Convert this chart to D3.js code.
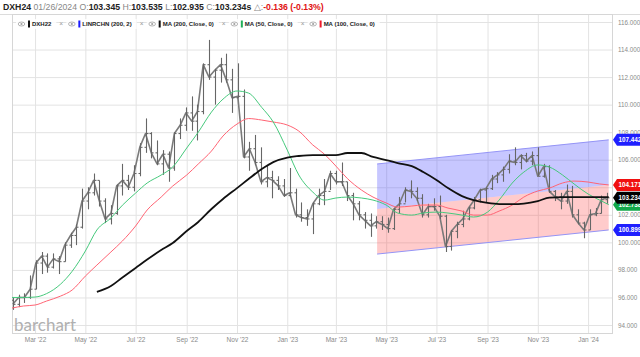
<!DOCTYPE html>
<html><head><meta charset="utf-8">
<script src="https://cdn.jsdelivr.net/npm/d3@7"></script>
<style>html,body{margin:0;padding:0;background:#fff;}svg{display:block}</style>
</head><body><svg id="c" width="640" height="357"></svg>
<script>
// ---------- DATA ----------
const weekDates = ["2022-02-04","2022-02-11","2022-02-18","2022-02-25","2022-03-04","2022-03-11","2022-03-18","2022-03-25","2022-04-01","2022-04-08","2022-04-15","2022-04-22","2022-04-29","2022-05-06","2022-05-13","2022-05-20","2022-05-27","2022-06-03","2022-06-10","2022-06-17","2022-06-24","2022-07-01","2022-07-08","2022-07-15","2022-07-22","2022-07-29","2022-08-05","2022-08-12","2022-08-19","2022-08-26","2022-09-02","2022-09-09","2022-09-16","2022-09-23","2022-09-30","2022-10-07","2022-10-14","2022-10-21","2022-10-28","2022-11-04","2022-11-11","2022-11-18","2022-11-25","2022-12-02","2022-12-09","2022-12-16","2022-12-23","2022-12-30",
"2023-01-06","2023-01-13","2023-01-20","2023-01-27","2023-02-03","2023-02-10","2023-02-17","2023-02-24","2023-03-03","2023-03-10","2023-03-17","2023-03-24","2023-03-31","2023-04-07","2023-04-14","2023-04-21","2023-04-28","2023-05-05","2023-05-12","2023-05-19","2023-05-26","2023-06-02","2023-06-09","2023-06-16","2023-06-23","2023-06-30","2023-07-07","2023-07-14","2023-07-21","2023-07-28","2023-08-04","2023-08-11","2023-08-18","2023-08-25","2023-09-01","2023-09-08","2023-09-15","2023-09-22","2023-09-29","2023-10-06","2023-10-13","2023-10-20","2023-10-27","2023-11-03","2023-11-10","2023-11-17","2023-11-24","2023-12-01","2023-12-08","2023-12-15","2023-12-22","2023-12-29",
"2024-01-05","2024-01-12","2024-01-19","2024-01-26"];
const weekHigh = [96.0,96.2,96.3,97.6,98.7,99.3,99.2,99.2,99.0,100.0,100.7,101.3,103.9,104.0,105.0,104.5,103.2,102.7,104.2,105.7,104.9,105.6,107.2,109.0,108.0,107.4,106.7,106.6,108.0,109.0,109.8,110.6,110.0,113.0,114.7,112.6,113.4,113.7,112.6,113.0,111.1,107.3,107.8,106.9,105.6,105.2,104.8,104.6,
105.4,103.9,102.9,102.4,102.9,103.9,104.6,105.2,105.2,105.8,104.4,103.6,103.0,102.2,102.1,101.9,101.9,101.8,102.5,103.3,104.0,104.5,104.0,103.5,102.8,103.2,103.4,102.0,100.9,101.5,102.3,102.6,103.3,103.9,104.0,104.9,105.1,105.5,106.4,106.9,106.4,106.5,106.6,106.9,105.7,105.6,103.8,103.6,104.2,104.1,102.4,101.5,
102.4,102.5,103.4,103.6];
const weekLow = [95.1,95.3,95.6,95.9,96.6,97.7,97.8,98.1,97.7,98.6,99.6,99.8,101.0,102.4,103.4,102.6,101.4,101.3,102.0,103.4,103.8,103.7,104.8,106.5,106.1,105.6,104.9,104.4,105.2,107.5,108.1,108.1,107.4,109.3,111.8,110.0,111.6,111.6,109.4,110.5,106.1,105.2,105.6,104.2,104.0,103.2,103.8,103.3,
103.3,101.8,101.5,101.2,100.6,102.7,102.7,103.8,104.2,104.1,103.0,101.6,101.6,101.0,100.4,101.0,100.9,100.7,100.9,102.1,102.9,103.2,103.0,101.8,101.8,102.3,101.7,99.3,99.4,100.3,101.1,101.6,102.4,102.9,102.9,103.8,104.3,104.4,105.0,105.6,105.3,105.8,105.6,104.8,104.7,103.6,103.0,102.4,102.8,101.8,101.3,100.3,
100.9,101.9,102.1,102.8];
const weekClose = [95.5,96.0,96.0,96.6,98.5,99.0,98.2,98.8,98.6,99.8,100.5,101.1,103.0,103.6,104.5,103.0,101.7,102.1,104.1,104.5,104.0,105.0,106.9,107.9,106.5,105.7,106.4,105.4,107.9,108.5,109.4,108.8,109.5,112.9,112.0,112.5,112.9,111.8,110.5,110.6,106.2,106.8,105.8,104.4,104.7,104.5,104.1,103.4,
103.6,102.0,101.8,101.7,102.8,103.4,103.7,105.0,104.4,104.4,103.4,102.8,102.0,101.6,101.2,101.5,101.3,101.0,102.4,102.8,103.8,103.7,103.2,102.0,102.6,102.6,101.9,99.7,100.8,101.3,101.7,102.5,103.1,103.8,103.9,104.6,104.9,105.3,105.9,105.8,106.3,105.9,106.3,104.8,105.5,103.7,103.3,103.0,103.7,102.0,101.4,100.9,
102.0,102.1,103.1,103.234];

const maDates = ["2022-02-01","2022-02-15","2022-03-01","2022-03-15","2022-04-01","2022-04-15","2022-05-01","2022-05-15","2022-06-01","2022-06-15","2022-07-01","2022-07-15","2022-08-01","2022-08-15","2022-09-01","2022-09-15","2022-10-01","2022-10-15","2022-11-01","2022-11-15","2022-12-01","2022-12-15",
"2023-01-01","2023-01-15","2023-02-01","2023-02-15","2023-03-01","2023-03-15","2023-04-01","2023-04-15","2023-05-01","2023-05-15","2023-06-01","2023-06-15","2023-07-01","2023-07-15","2023-08-01","2023-08-15","2023-09-01","2023-09-15","2023-10-01","2023-10-15","2023-11-01","2023-11-15","2023-12-01","2023-12-15",
"2024-01-01","2024-01-15","2024-01-26"];
const ma50 = [96.0,96.0,96.03,96.28,96.97,97.9,99.37,100.9,101.77,102.7,103.58,104.31,104.89,105.47,106.85,108.0,109.46,110.4,110.99,110.84,109.8,108.74,
106.7,104.89,103.65,103.07,103.22,103.29,103.22,103.07,102.71,102.13,101.98,102.13,102.2,102.13,101.98,101.84,102.2,103.07,104.31,105.1,105.62,105.47,104.89,104.24,
103.51,103.07,102.738];
const ma100 = [95.23,95.38,95.45,95.74,96.10,96.54,97.55,98.35,99.3,100.1,101.19,102.35,103.29,104.09,104.89,105.69,106.63,107.72,108.59,108.99,108.88,108.74,
108.52,108.08,107.07,106.41,105.54,104.63,103.8,103.29,102.86,102.56,102.64,102.71,102.71,102.49,102.27,101.98,101.98,102.27,102.71,103.29,103.73,103.94,104.31,104.45,
104.38,104.24,104.17];
const ma200 = [null,null,null,null,null,null,null,96.4,96.83,97.45,98.14,98.75,99.44,99.95,100.82,101.48,102.42,103.15,103.94,104.6,105.32,105.83,
106.16,106.27,106.34,106.34,106.34,106.49,106.49,106.2,105.98,105.76,105.54,105.11,104.53,103.94,103.36,103.07,102.86,102.78,102.78,102.82,103.0,103.25,103.29,103.29,
103.29,103.29,103.29];

const channelDates = ["2023-04-20","2024-01-26"];
const channelUpper = [105.69, 107.442];
const channelMid = [102.42, 104.171];
const channelLower = [99.15, 100.899];

const yTicks = [94,96,98,100,102,104,106,108,110,112,114,116];
const xTickDates = ["2022-03-01","2022-05-01","2022-07-01","2022-09-01","2022-11-01","2023-01-01","2023-03-01","2023-05-01","2023-07-01","2023-09-01","2023-11-01","2024-01-01"];

const headerParts = [
  ["DXH24", "#222", 700], [" 01/26/2024", "#888", 400], [" O:", "#888", 400], ["103.345", "#222", 700],
  [" H:", "#888", 400], ["103.535", "#222", 700], [" L:", "#888", 400], ["102.935", "#222", 700],
  [" C:", "#888", 400], ["103.234s", "#222", 700], [" \u25B3:", "#888", 400], ["-0.136 (-0.13%)", "#e01010", 700]
];
const legendItems = [
  ["DXH22", "#111"], ["LINRCHN (200, 2)", "#1a1aff"], ["MA (200, Close, 0)", "#111"],
  ["MA (50, Close, 0)", "#22b05a"], ["MA (100, Close, 0)", "#f01c2c"]
];

// ---------- CHART ----------
const parse = d3.timeParse("%Y-%m-%d");
const svg = d3.select("#c");
const L = 12, R = 612, T = 14, B = 333;
const x = d3.scaleTime().domain([parse("2022-02-01"), parse("2024-01-30")]).range([L, R]);
const y = d3.scaleLinear().domain([94, 116]).range([325, 22]);
const FONT = "'Liberation Sans', Arial, sans-serif";

svg.append("rect").attr("width", 640).attr("height", 357).attr("fill", "#fff");

// grid
const gy = svg.append("g").attr("transform", `translate(${L},0)`)
  .call(d3.axisRight(y).tickValues(yTicks).tickSize(R - L).tickFormat(""));
gy.select(".domain").remove();
gy.selectAll("line").attr("stroke", "#e3e3e3");
const gx = svg.append("g").attr("transform", `translate(0,${B})`)
  .call(d3.axisBottom(x).tickValues(xTickDates.map(parse)).tickSize(-(B - T)).tickFormat(""));
gx.select(".domain").remove();
gx.selectAll("line").attr("stroke", "#e3e3e3");

// frame
svg.append("line").attr("x1", 0).attr("x2", 640).attr("y1", T + 0.5).attr("y2", T + 0.5).attr("stroke", "#dcdcdc");
svg.append("rect").attr("x", L + 0.5).attr("y", T + 0.5).attr("width", R - L).attr("height", B - T)
  .attr("fill", "none").attr("stroke", "#d6d6d6");

svg.append("defs").append("clipPath").attr("id", "clip")
  .append("rect").attr("x", L).attr("y", T).attr("width", R - L).attr("height", B - T);
const plot = svg.append("g").attr("clip-path", "url(#clip)");

// regression channel
const ch = channelDates.map((d, i) => ({ d: parse(d), u: channelUpper[i], m: channelMid[i], l: channelLower[i] }));
plot.append("path").datum(ch).attr("fill", "rgba(70,70,255,0.30)")
  .attr("d", d3.area().x(d => x(d.d)).y0(d => y(d.m)).y1(d => y(d.u)));
plot.append("path").datum(ch).attr("fill", "rgba(255,70,70,0.28)")
  .attr("d", d3.area().x(d => x(d.d)).y0(d => y(d.l)).y1(d => y(d.m)));
["u", "l"].forEach(k => plot.append("path").datum(ch).attr("fill", "none").attr("stroke", "#9494f6").attr("stroke-width", 1)
  .attr("d", d3.line().x(d => x(d.d)).y(d => y(d[k]))));

// price bars (weekly OHLC)
const bars = weekDates.map((d, i) => ({
  d: d3.timeDay.offset(parse(d), -2), h: weekHigh[i], l: weekLow[i], c: weekClose[i],
  o: i === 0 ? 95.8 : weekClose[i - 1]
}));
plot.append("path").datum(bars).attr("fill", "none").attr("stroke", "#7a7a7a").attr("stroke-width", 1.6)
  .attr("stroke-linejoin", "round")
  .attr("d", d3.line().x(b => x(b.d)).y(b => y(b.c)));
const pb = plot.append("g").attr("stroke", "#666").attr("stroke-width", 1.1).attr("fill", "none");
bars.forEach(b => {
  const bx = Math.round(x(b.d)) + 0.5;
  pb.append("line").attr("x1", bx).attr("x2", bx).attr("y1", y(b.h)).attr("y2", y(b.l));
  pb.append("line").attr("x1", bx - 2).attr("x2", bx).attr("y1", y(b.o)).attr("y2", y(b.o));
  pb.append("line").attr("x1", bx).attr("x2", bx + 2).attr("y1", y(b.c)).attr("y2", y(b.c));
});

// moving averages
function maLine(vals, color, w) {
  const pts = maDates.map((d, i) => ({ d: parse(d), v: vals[i] }));
  plot.append("path").datum(pts).attr("fill", "none").attr("stroke", color).attr("stroke-width", w)
    .attr("d", d3.line().defined(p => p.v != null).curve(d3.curveMonotoneX).x(p => x(p.d)).y(p => y(p.v)));
}
maLine(ma100, "#ff6474", 1);
maLine(ma50, "#46c97c", 1);
maLine(ma200, "#111", 1.8);

// price tags (values from data)
const tags = [
  [channelUpper[1], "#1f1fff"], [channelMid[1], "#f01010"], [ma50[ma50.length - 1], "#12a84a"],
  [weekClose[weekClose.length - 1], "#000"], [channelLower[1], "#1f1fff"]
];

// y axis labels (those hidden under a tag are left out, as in the original)
const visibleTicks = yTicks.filter(t => !tags.some(([v]) => Math.abs(y(v) - y(t)) < 5));
const ay = svg.append("g").attr("transform", `translate(${R},0)`)
  .call(d3.axisRight(y).tickValues(visibleTicks).tickSize(0).tickPadding(6).tickFormat(d3.format(".3f")));
ay.select(".domain").remove();
ay.selectAll("text").attr("font-family", FONT).attr("font-size", 6.3).attr("fill", "#8a8a8a");

// x axis labels
const ax = svg.append("g").attr("transform", `translate(0,${B})`)
  .call(d3.axisBottom(x).tickValues(xTickDates.map(parse)).tickSize(0).tickPadding(4).tickFormat(d3.timeFormat("%b '%y")));
ax.select(".domain").remove();
ax.selectAll("text").attr("font-family", FONT).attr("font-size", 6.5).attr("fill", "#8a8a8a");

tags.forEach(([v, col]) => {
  const ty = y(v);
  const g = svg.append("g");
  g.append("path").attr("fill", col)
    .attr("d", `M${R + 1},${ty} L${R + 5},${ty - 6} L640,${ty - 6} L640,${ty + 6} L${R + 5},${ty + 6} Z`);
  g.append("text").attr("x", R + 6.5).attr("y", ty + 2.4).attr("font-family", FONT).attr("font-size", 6.3)
    .attr("font-weight", 700).attr("fill", "#fff").text(d3.format(".3f")(v));
});

// header
const ht = svg.append("text").attr("x", 3).attr("y", 10).attr("font-family", FONT).attr("font-size", 7.5);
headerParts.forEach(([t, c, w]) => ht.append("tspan").attr("fill", c).attr("font-weight", w).text(t));
const hw = ht.node().getComputedTextLength();
ht.attr("font-size", 7.5 * 321 / hw);

// legend
let lx = 18;
const ly = 24;
const lg = svg.append("g");
legendItems.forEach(([t, col], i) => {
  const g = lg.append("g");
  const start = lx - 2;
  g.append("ellipse").attr("cx", lx + 3.5).attr("cy", ly).attr("rx", 3.3).attr("ry", 2).attr("fill", "none").attr("stroke", "#a0a0a0").attr("stroke-width", 0.8);
  g.append("circle").attr("cx", lx + 3.5).attr("cy", ly).attr("r", 1.1).attr("fill", "#a0a0a0");
  lx += 10;
  g.append("rect").attr("x", lx).attr("y", ly - 3.5).attr("width", 2).attr("height", 7).attr("fill", col);
  lx += 4;
  const tx = g.append("text").attr("x", lx).attr("y", ly + 2.2).attr("font-family", FONT).attr("font-size", 6)
    .attr("font-weight", 700).attr("fill", "#222").text(t);
  lx += tx.node().getComputedTextLength() + 8;
  g.insert("rect", ":first-child").attr("x", start).attr("y", ly - 5).attr("width", lx - start - 3).attr("height", 10).attr("fill", "rgba(255,255,255,0.85)");
  if (i < legendItems.length - 1) {
    g.append("text").attr("x", lx).attr("y", ly + 2.2).attr("font-family", FONT).attr("font-size", 6.5).attr("fill", "#999").text("\u00D7");
    lx += 9;
  }
});

// logo
svg.append("text").attr("x", 14).attr("y", 331).attr("font-family", "Lato, 'Open Sans', sans-serif")
  .attr("font-size", 17).attr("fill", "#b0b0b0").text("barchart");
</script></body></html>
